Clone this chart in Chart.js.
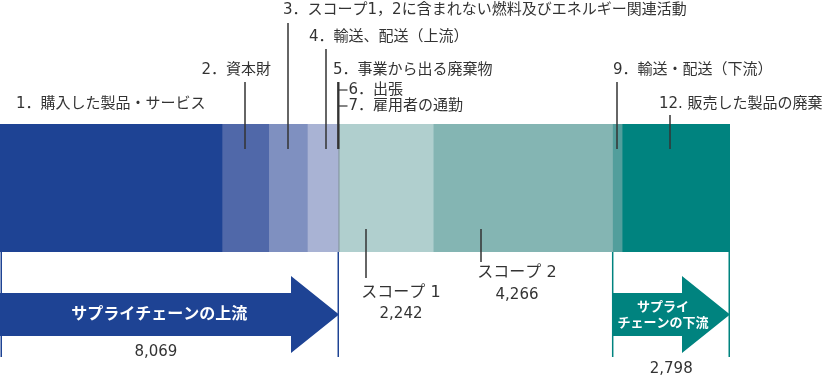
<!DOCTYPE html>
<html>
<head>
<meta charset="utf-8">
<script src="https://cdn.jsdelivr.net/npm/chart.js@4/dist/chart.umd.min.js"></script>
<style>
  html, body { margin: 0; padding: 0; background: #fff; }
  #wrap { position: relative; width: 826px; height: 380px; }
</style>
</head>
<body>
<div id="wrap"><canvas id="c" width="826" height="380"></canvas></div>
<script>
// ---------- DATA ----------
const categories = ['排出量'];
const segmentLabels = [
  '1．購入した製品・サービス',
  '2．資本財',
  '3．スコープ1，2に含まれない燃料及びエネルギー関連活動',
  '4．輸送、配送（上流）',
  '5．事業から出る廃棄物',
  '6．出張',
  '7．雇用者の通勤',
  'スコープ 1',
  'スコープ 2',
  '9．輸送・配送（下流）',
  '12. 販売した製品の廃棄'
];
const segmentValues = [5284, 1111, 920, 730, 10, 8, 6, 2242, 4266, 230, 2568];
const groupLabels = ['サプライチェーンの上流', 'サプライ\nチェーンの下流'];
const groupTotals = [8069, 2798];
const groupSegments = [[0, 6], [9, 10]];   // first / last segment index of each group

// ---------- STYLE ----------
const segmentColors = ['#1e4394', '#5068a9', '#7f90c0', '#a9b3d4', '#8a9aa6', '#7f8f9b', '#76878f',
                       '#b0cfce', '#84b5b3', '#529e9c', '#00837f'];
const groupColors = ['#1e4394', '#00837f'];
const FONT = '"DejaVu Sans", "Noto Sans CJK JP", sans-serif';
const JFONT = '"Noto Sans CJK JP", sans-serif';
const TXT = '#333333';

// label layout (annotation placement only)
const topLabels = [
  { seg: 0, tx: 16, ty: 104, align: 'left' },
  { seg: 1, tx: 271, ty: 70, align: 'right', frac: 0.5, lineTop: 82 },
  { seg: 2, tx: 283, ty: 10, align: 'left', frac: 0.5, lineTop: 23 },
  { seg: 3, tx: 309, ty: 37, align: 'left', frac: 0.6, lineTop: 49 },
  { seg: 4, tx: 333, ty: 70, align: 'left', frac: 0.5, lineTop: 82 },
  { seg: 9, tx: 613, ty: 70, align: 'left', frac: 0.5, lineTop: 82 },
  { seg: 10, tx: 659, ty: 104, align: 'left', frac: 0.44, lineTop: 115 }
];
const bracketLabels = [ { seg: 5, ty: 90 }, { seg: 6, ty: 106 } ];
const scopeLabels = [
  { seg: 7, frac: 0.29, lineBottom: 278, ty: 293, vy: 314, dx: 35 },
  { seg: 8, frac: 0.265, lineBottom: 262, ty: 273, vy: 295, dx: 36 }
];

const cum = [0];
segmentValues.forEach(v => cum.push(cum[cum.length - 1] + v));
const total = cum[cum.length - 1];

const datasets = segmentValues.map((v, i) => ({
  label: segmentLabels[i],
  data: [v],
  backgroundColor: segmentColors[i],
  borderWidth: 0,
  barPercentage: 1,
  categoryPercentage: 1
}));

function fmt(n) { return n.toLocaleString('en-US'); }

const annot = {
  id: 'annot',
  afterDraw(chart) {
    const ctx = chart.ctx;
    const xs = chart.scales.x;
    const area = chart.chartArea;
    const px = v => xs.getPixelForValue(v);
    const segX = (i, f) => px(cum[i] + segmentValues[i] * f);
    const barTop = area.top, barBot = area.bottom;
    const leaderEnd = barTop + 25;
    ctx.save();
    ctx.font = '15px ' + FONT;
    ctx.fillStyle = TXT;
    ctx.strokeStyle = '#333';
    ctx.lineWidth = 1.5;
    ctx.textBaseline = 'middle';

    function vline(x, y1, y2) {
      ctx.beginPath(); ctx.moveTo(x, y1); ctx.lineTo(x, y2); ctx.stroke();
    }

    topLabels.forEach(l => {
      ctx.textAlign = l.align;
      ctx.fillText(segmentLabels[l.seg], l.tx, l.ty);
      if (l.frac !== undefined) vline(Math.round(segX(l.seg, l.frac)), l.lineTop, leaderEnd);
    });

    // bracket for 6 / 7
    const bx = Math.round(px(cum[4])) + 0.5;
    ctx.lineWidth = 2;
    vline(bx, 82, leaderEnd);
    ctx.lineWidth = 1.2;
    bracketLabels.forEach(b => {
      ctx.beginPath(); ctx.moveTo(bx, b.ty); ctx.lineTo(bx + 9, b.ty); ctx.stroke();
      ctx.textAlign = 'left';
      ctx.fillText(segmentLabels[b.seg], bx + 10, b.ty);
    });

    // scope labels
    ctx.lineWidth = 1.5;
    scopeLabels.forEach(s => {
      const x = Math.round(segX(s.seg, s.frac));
      vline(x, barBot - 23, s.lineBottom);
      ctx.textAlign = 'center';
      ctx.font = '16px ' + FONT;
      ctx.fillText(segmentLabels[s.seg], x + s.dx, s.ty);
      ctx.font = '15px ' + FONT;
      ctx.fillText(fmt(segmentValues[s.seg]), x + s.dx, s.vy);
    });

    // group brackets and arrows
    groupSegments.forEach((g, gi) => {
      const x0 = px(cum[g[0]]);
      const x1 = px(cum[g[1] + 1]);
      ctx.strokeStyle = groupColors[gi];
      ctx.lineWidth = 1.5;
      vline(Math.max(x0, 1) + 0.25, barBot, 357);
      vline(x1 - 0.75, barBot, 357);
      const headW = 48;
      const bodyTop = 293, bodyBot = 336, headTop = 276, headBot = 353;
      const midY = (headTop + headBot) / 2;
      ctx.fillStyle = groupColors[gi];
      ctx.beginPath();
      ctx.moveTo(x0, bodyTop);
      ctx.lineTo(x1 - headW, bodyTop);
      ctx.lineTo(x1 - headW, headTop);
      ctx.lineTo(x1, midY);
      ctx.lineTo(x1 - headW, headBot);
      ctx.lineTo(x1 - headW, bodyBot);
      ctx.lineTo(x0, bodyBot);
      ctx.closePath();
      ctx.fill();

      ctx.fillStyle = '#ffffff';
      ctx.textAlign = 'center';
      const lines = groupLabels[gi].split('\n');
      if (lines.length === 1) {
        ctx.font = 'bold 16px ' + JFONT;
        ctx.fillText(lines[0], x0 + (x1 - x0) * 0.47, 313);
      } else {
        ctx.font = 'bold 13px ' + JFONT;
        const cx = x0 + (x1 - x0) * 0.43;
        ctx.fillText(lines[0], cx, 306);
        ctx.fillText(lines[1], cx, 322);
      }
      ctx.fillStyle = TXT;
      ctx.font = '15px ' + FONT;
      if (gi === 0) ctx.fillText(fmt(groupTotals[gi]), x0 + (x1 - x0) * 0.46, 352);
      else ctx.fillText(fmt(groupTotals[gi]), x0 + (x1 - x0) * 0.5, 369);
    });
    ctx.restore();
  }
};

new Chart(document.getElementById('c'), {
  type: 'bar',
  data: { labels: categories, datasets },
  options: {
    indexAxis: 'y',
    responsive: false,
    animation: false,
    layout: { padding: { left: 0, right: 96, top: 124, bottom: 128 } },
    plugins: { legend: { display: false }, tooltip: { enabled: false } },
    scales: {
      x: { stacked: true, min: 0, max: total, display: false },
      y: { stacked: true, display: false }
    }
  },
  plugins: [annot]
});
</script>
</body>
</html>
